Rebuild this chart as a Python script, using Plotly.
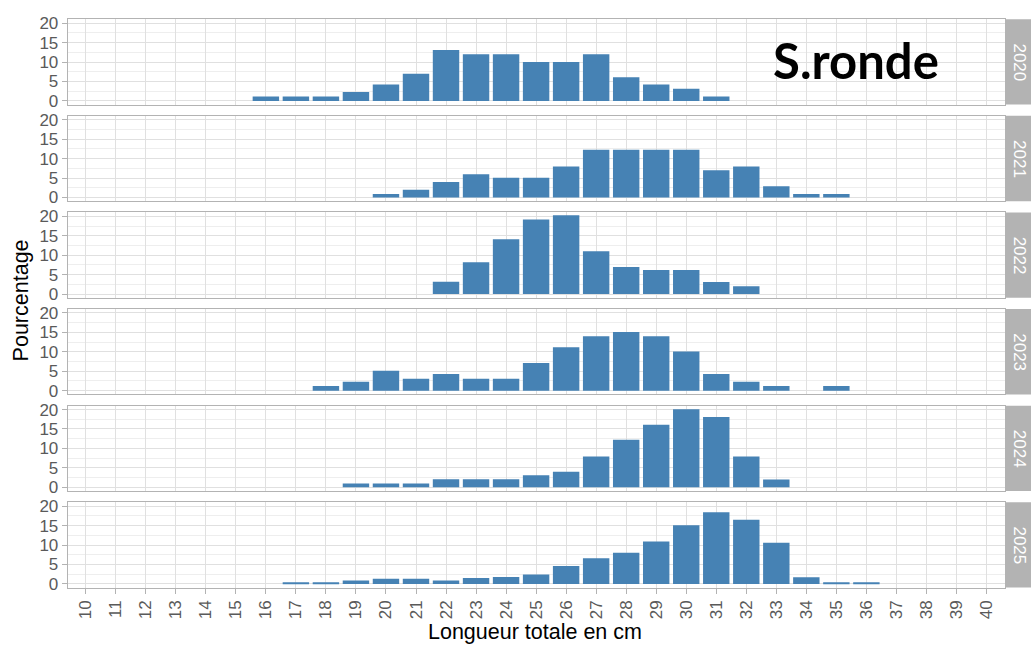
import plotly.graph_objects as go

W, H = 1031, 645

years = ["2020", "2021", "2022", "2023", "2024", "2025"]

len_2020 = [16, 17, 18, 19, 20, 21, 22, 23, 24, 25, 26, 27, 28, 29, 30, 31]
pct_2020 = [1.1, 1.1, 1.1, 2.3, 4.2, 7.0, 13.1, 12.0, 12.0, 10.0, 10.0, 12.0, 6.1, 4.2, 3.1, 1.1]

len_2021 = [20, 21, 22, 23, 24, 25, 26, 27, 28, 29, 30, 31, 32, 33, 34, 35]
pct_2021 = [0.9, 2.0, 4.0, 6.0, 5.1, 5.1, 8.0, 12.3, 12.3, 12.3, 12.3, 7.0, 8.0, 2.9, 0.9, 0.9]

len_2022 = [22, 23, 24, 25, 26, 27, 28, 29, 30, 31, 32]
pct_2022 = [3.2, 8.2, 14.1, 19.2, 20.3, 11.0, 7.0, 6.2, 6.2, 3.1, 2.0]

len_2023 = [18, 19, 20, 21, 22, 23, 24, 25, 26, 27, 28, 29, 30, 31, 32, 33, 35]
pct_2023 = [1.2, 2.3, 5.1, 3.1, 4.3, 3.1, 3.1, 7.1, 11.2, 14.0, 15.1, 14.0, 10.1, 4.3, 2.3, 1.2, 1.2]

len_2024 = [19, 20, 21, 22, 23, 24, 25, 26, 27, 28, 29, 30, 31, 32, 33]
pct_2024 = [1.0, 1.0, 1.0, 2.1, 2.1, 2.1, 3.1, 4.0, 7.9, 12.2, 16.1, 20.1, 18.1, 7.9, 2.0]

len_2025 = [17, 18, 19, 20, 21, 22, 23, 24, 25, 26, 27, 28, 29, 30, 31, 32, 33, 34, 35, 36]
pct_2025 = [0.35, 0.35, 0.9, 1.3, 1.3, 0.9, 1.5, 1.8, 2.4, 4.6, 6.6, 8.0, 10.9, 15.1, 18.4, 16.5, 10.6, 1.7, 0.35, 0.35]

x_ticks = list(range(10, 41))
y_ticks = [0, 5, 10, 15, 20]

series = [
    (len_2020, pct_2020), (len_2021, pct_2021), (len_2022, pct_2022),
    (len_2023, pct_2023), (len_2024, pct_2024), (len_2025, pct_2025),
]

# layout geometry (target pixels in the picture)
panel_left, panel_right = 67.7, 1004.5
panel_tops = [18.3, 115.1, 211.9, 308.7, 405.5, 502.3]
panel_h = 85.5
strip_x0, strip_x1 = 1006, 1031

def px_x(x):
    return x / W

def px_y(y):
    # small vertical correction observed in the rendering pipeline
    page_y = (y - 4.0) / 0.985
    return 1 - page_y / H

bar_color = "#4682B4"
grid_major = "#E0E0E0"
grid_minor = "#EEEEEE"
border = "#B3B3B3"
FONT = "Liberation Sans, Arial, sans-serif"
tick_font = dict(family=FONT, size=17, color="#5A5A5A")

fig = go.Figure()
layout = dict(
    width=W, height=H, autosize=False,
    margin=dict(l=0, r=0, t=0, b=0),
    plot_bgcolor="white", paper_bgcolor="white",
    showlegend=False, bargap=0.12,
)
shapes = []
annotations = []

for i, (yr, (xs, ys)) in enumerate(zip(years, series)):
    k = "" if i == 0 else str(i + 1)
    fig.add_trace(go.Bar(
        x=xs, y=ys, width=0.88, marker=dict(color=bar_color, line=dict(width=0)),
        xaxis="x" + k, yaxis="y" + k, hoverinfo="x+y",
    ))
    top = panel_tops[i]
    bot = top + panel_h
    last = (i == len(years) - 1)
    layout["xaxis" + k] = dict(
        domain=[px_x(panel_left), px_x(panel_right)],
        anchor="y" + k,
        range=[9.4, 40.6],
        tickmode="array", tickvals=x_ticks, ticktext=[str(v) for v in x_ticks],
        showticklabels=last, tickangle=-90,
        ticks="outside" if last else "", ticklen=5, tickcolor=border,
        tickfont=tick_font,
        showgrid=True, gridcolor=grid_major, gridwidth=1,
        zeroline=False,
        showline=True, linecolor=border, linewidth=1, mirror=True,
        fixedrange=True,
    )
    if i > 0:
        layout["xaxis" + k]["matches"] = "x"
    layout["yaxis" + k] = dict(
        domain=[px_y(bot), px_y(top)],
        anchor="x" + k,
        range=[-0.95, 21.0],
        tickmode="array", tickvals=y_ticks, ticktext=[str(v) for v in y_ticks],
        ticks="outside", ticklen=5, tickcolor=border,
        tickfont=tick_font,
        showgrid=True, gridcolor=grid_major, gridwidth=1,
        minor=dict(tickmode="array", tickvals=[2.5, 7.5, 12.5, 17.5], showgrid=True,
                   gridcolor=grid_minor, gridwidth=1),
        zeroline=False,
        showline=True, linecolor=border, linewidth=1, mirror=True,
        fixedrange=True,
    )
    shapes.append(dict(
        type="rect", xref="paper", yref="paper",
        x0=px_x(strip_x0), x1=px_x(strip_x1 + 2), y0=px_y(bot), y1=px_y(top),
        fillcolor="#B3B3B3", line=dict(width=0), layer="above",
    ))
    annotations.append(dict(
        xref="paper", yref="paper",
        x=px_x((strip_x0 + strip_x1) / 2 + 1), y=px_y((top + bot) / 2),
        text=yr, showarrow=False, textangle=90,
        font=dict(family=FONT, size=17, color="#FFFFFF"),
        xanchor="center", yanchor="middle",
    ))

annotations.append(dict(
    xref="paper", yref="paper", x=px_x(21), y=px_y(300),
    text="Pourcentage", showarrow=False, textangle=-90,
    font=dict(family=FONT, size=21.5, color="#000000"),
    xanchor="center", yanchor="middle",
))
annotations.append(dict(
    xref="paper", yref="paper", x=px_x(535), y=px_y(632),
    text="Longueur totale en cm", showarrow=False,
    font=dict(family=FONT, size=21.5, color="#000000"),
    xanchor="center", yanchor="middle",
))
annotations.append(dict(
    xref="paper", yref="paper", x=px_x(856), y=px_y(59),
    text="<b>S.ronde</b>", showarrow=False,
    font=dict(family="Lato, Open Sans, Liberation Sans, sans-serif", size=49, color="#000000"),
    xanchor="center", yanchor="middle",
))

layout["shapes"] = shapes
layout["annotations"] = annotations
fig.update_layout(**layout)

fig.write_html(
    "out.html",
    config={"displayModeBar": False},
    post_script="document.body.style.margin='0px';document.body.style.overflow='hidden';",
)
